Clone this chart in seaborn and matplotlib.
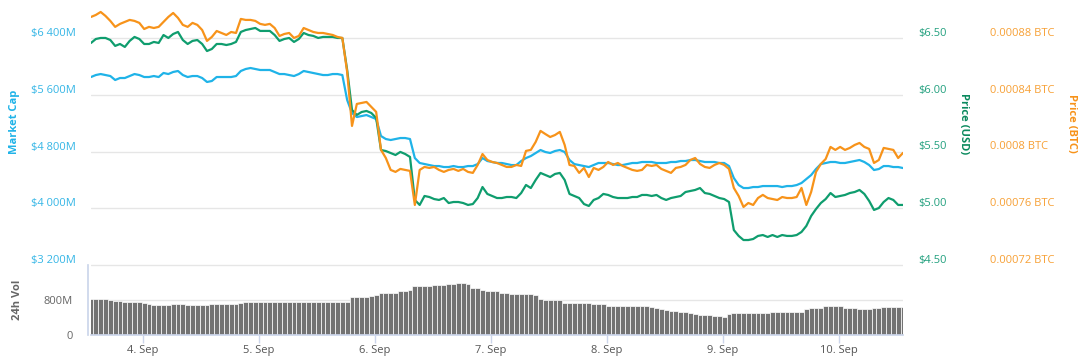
import matplotlib as mpl

mpl.use("Agg")

import matplotlib.pyplot as plt
import matplotlib.dates as mdates
from matplotlib.transforms import ScaledTranslation
import seaborn as sns
import numpy as np
import pandas as pd

sns.set_theme(style="white")
plt.rcParams["font.family"] = ["Open Sans", "DejaVu Sans"]

# hourly samples, 3 Sep 13:15 -> 10 Sep 13:15
times = pd.date_range("2018-09-03 13:15", periods=169, freq="h")

market_cap = [  # $M
    5850, 5878, 5892, 5878, 5864, 5808, 5836, 5836, 5864, 5892, 5878, 5850, 5850, 5864, 5850, 5907,
    5892, 5921, 5935, 5878, 5850, 5864, 5864, 5836, 5780, 5794, 5850, 5850, 5850, 5850, 5864,
    5935, 5963, 5977, 5963, 5949, 5949, 5949, 5921, 5892, 5892, 5878, 5864, 5892, 5935, 5921,
    5907, 5892, 5878, 5878, 5892, 5892, 5878, 5526, 5342, 5286, 5300, 5314, 5286, 5258,
    5018, 4976, 4962, 4976, 4990, 4990, 4976, 4708, 4638, 4623, 4609, 4595, 4595, 4581, 4581,
    4595, 4581, 4581, 4595, 4595, 4623, 4708,
    4666, 4652, 4638, 4638, 4623, 4609, 4609, 4666, 4708, 4736, 4779, 4821, 4793, 4779, 4807,
    4821, 4793, 4680, 4623, 4609, 4595, 4581, 4609, 4638, 4638, 4638, 4623, 4609, 4609, 4623,
    4638, 4638, 4652, 4652, 4652, 4638, 4638, 4638, 4652, 4652, 4666, 4666, 4680, 4680, 4666,
    4652, 4652, 4652, 4638, 4638, 4595, 4426, 4327, 4285, 4285, 4299, 4299, 4313, 4313, 4313,
    4313, 4299, 4313, 4313, 4327, 4356, 4412, 4468, 4553, 4623, 4638, 4652, 4652, 4638, 4638,
    4652, 4666, 4680, 4652, 4609, 4539, 4553, 4595, 4595, 4581, 4581, 4567,
]

price_usd = [
    6.456, 6.491, 6.500, 6.500, 6.482, 6.430, 6.447, 6.421, 6.474, 6.509, 6.491, 6.447, 6.447,
    6.465, 6.456, 6.526, 6.500, 6.535, 6.553, 6.482, 6.447, 6.474, 6.482, 6.447, 6.385, 6.403,
    6.447, 6.447, 6.438, 6.447, 6.465,
    6.553, 6.570, 6.579, 6.588, 6.562, 6.562, 6.562, 6.526, 6.474, 6.491, 6.500, 6.465, 6.491,
    6.544, 6.526, 6.518, 6.500, 6.509, 6.509, 6.509, 6.500, 6.500, 6.218, 5.866, 5.822, 5.848,
    5.857, 5.839, 5.795,
    5.513, 5.504, 5.487, 5.469, 5.496, 5.478, 5.452, 5.073, 5.029, 5.108, 5.099, 5.081, 5.073,
    5.090, 5.046, 5.055, 5.055, 5.046, 5.029, 5.037, 5.090, 5.187,
    5.126, 5.108, 5.090, 5.090, 5.099, 5.099, 5.090, 5.134, 5.205, 5.178, 5.249, 5.311, 5.293,
    5.275, 5.302, 5.311, 5.249, 5.126, 5.108, 5.090, 5.037, 5.020, 5.073, 5.090, 5.126, 5.117,
    5.099, 5.090, 5.090, 5.090,
    5.099, 5.099, 5.117, 5.117, 5.108, 5.117, 5.090, 5.073, 5.090, 5.099, 5.108, 5.143, 5.152,
    5.161, 5.178, 5.134, 5.126, 5.108, 5.090, 5.081, 5.055, 4.808, 4.756, 4.720, 4.720, 4.729,
    4.756, 4.764, 4.747, 4.764,
    4.747, 4.764, 4.756, 4.756, 4.764, 4.791, 4.844, 4.932, 4.993, 5.046, 5.081, 5.134, 5.099,
    5.108, 5.117, 5.134, 5.143, 5.161, 5.126, 5.064, 4.985, 5.002, 5.055, 5.090, 5.073, 5.029,
    5.029,
]

price_btc_e5 = [  # BTC x 1e-5
    89.48, 89.62, 89.83, 89.55, 89.20, 88.78, 88.99, 89.13, 89.27, 89.20, 89.06, 88.63, 88.78,
    88.70, 88.78, 89.13, 89.48, 89.76, 89.41, 88.92, 88.78, 89.06, 88.92, 88.56, 87.79, 88.07,
    88.49, 88.35, 88.21, 88.42, 88.35,
    89.34, 89.27, 89.27, 89.20, 88.99, 88.92, 88.99, 88.70, 88.14, 88.28, 88.35, 88.00, 88.14,
    88.70, 88.56, 88.42, 88.35, 88.35, 88.28, 88.21, 88.07, 88.00, 85.60, 81.80, 83.35, 83.42,
    83.49, 83.14, 82.79,
    80.11, 79.54, 78.70, 78.56, 78.77, 78.70, 78.63, 76.23, 78.70, 78.91, 78.84, 78.91, 78.70,
    78.56, 78.70, 78.77, 78.63, 78.77, 78.56, 78.49, 79.05, 79.82,
    79.40, 79.26, 79.19, 79.05, 78.91, 78.91, 79.05, 78.98, 80.04, 80.11, 80.67, 81.45, 81.23,
    81.02, 81.16, 81.38, 80.46, 79.05, 78.98, 78.49, 78.84, 78.20, 78.84, 78.70, 78.91, 79.26,
    79.05, 79.19, 78.98, 78.84,
    78.70, 78.63, 78.70, 79.05, 78.98, 79.05, 78.77, 78.63, 78.49, 78.84, 78.91, 79.05, 79.40,
    79.54, 79.12, 78.91, 78.84, 79.05, 79.19, 79.05, 78.77, 77.43, 76.86, 76.09, 76.37, 76.23,
    76.72, 76.94, 76.72, 76.65,
    76.58, 76.79, 76.72, 76.72, 76.79, 77.43, 76.23, 77.15, 78.56, 79.12, 79.47, 80.32, 80.11,
    80.32, 80.11, 80.25, 80.46, 80.60, 80.32, 80.18, 79.19, 79.40, 80.25, 80.18, 80.11, 79.54,
    79.90,
]
price_btc = np.array(price_btc_e5) * 1e-5

volume_m = [
    825, 825, 820, 815, 790, 785, 780, 750, 745, 745, 745, 740,
    700, 695, 690, 690, 690, 700, 700, 700, 695, 690, 690, 690, 695, 700, 705,
    715, 720, 720, 720, 725,
    755, 760, 760, 760, 760, 760, 760, 760, 760, 760, 760, 760, 760, 760, 760, 755, 755, 750,
    750, 750, 750, 750,
    860, 875, 880, 880, 900, 905, 950, 960, 960, 970, 1010, 1015, 1020,
    1110, 1125, 1130, 1130, 1135, 1140, 1150, 1170, 1175, 1180, 1180, 1170, 1080, 1070,
    1020, 1010, 1010, 1000, 960, 950, 945, 940, 940, 935, 930, 920,
    820, 800, 800, 795, 790, 740, 735, 730, 730, 725, 725, 720, 715, 700,
    670, 665, 665, 665, 665, 665, 665, 665, 660, 630, 610, 590,
    575, 560, 545, 530, 515, 505, 470, 460, 455, 450, 440, 430, 420,
    470, 495, 505, 505, 505, 505, 505, 505, 505, 530, 535, 535, 535, 535, 535, 535,
    600, 610, 615, 620, 660, 670, 670, 665, 615, 610, 610, 590, 585, 585,
    625, 625, 630, 630, 630, 630, 630,
]

cap_ticks = [3200, 4000, 4800, 5600, 6400]
cap_labels = ["$3 200M", "$4 000M", "$4 800M", "$5 600M", "$6 400M"]
usd_ticks = [4.5, 5.0, 5.5, 6.0, 6.5]
usd_labels = ["$4.50", "$5.00", "$5.50", "$6.00", "$6.50"]
btc_ticks = [0.00072, 0.00076, 0.0008, 0.00084, 0.00088]
btc_labels = ["0.00072 BTC", "0.00076 BTC", "0.0008 BTC", "0.00084 BTC", "0.00088 BTC"]
vol_ticks = [0, 800, 1600]
vol_labels = ["0", "800M", ""]

c_cap, c_usd, c_btc = "#1fb3e8", "#0f9d6e", "#f7931a"
W, H = 1087, 356

fig = plt.figure(figsize=(W / 100, H / 100), dpi=100)
ax = fig.add_axes([91 / W, 91 / H, 812 / W, 257 / H])
ax_usd = ax.twinx()
ax_btc = ax.twinx()
ax_vol = fig.add_axes([91 / W, 21 / H, 812 / W, 70 / H], sharex=ax)

sns.lineplot(x=times, y=market_cap, ax=ax, color=c_cap, linewidth=1.6)
sns.lineplot(x=times, y=price_usd, ax=ax_usd, color=c_usd, linewidth=1.6)
sns.lineplot(x=times, y=price_btc, ax=ax_btc, color=c_btc, linewidth=1.6)
ax_vol.bar(times, volume_m, width=1 / 24, color="#737373", edgecolor="white", linewidth=0.5)

ax.set_xlim(times[0], times[-1])
ax.set_ylim(3200, 6823)
ax_usd.set_ylim(4.5, 6.764)
ax_btc.set_ylim(0.00072, 0.0009011)
ax_vol.set_ylim(0, 1600)

up = ScaledTranslation(0, 0.06, fig.dpi_scale_trans)
for a, ticks, labels, color, pad in [
    (ax, cap_ticks, cap_labels, "#35b6e6", 10.8),
    (ax_usd, usd_ticks, usd_labels, "#22a07e", 10.8),
    (ax_btc, btc_ticks, btc_labels, "#f7a035", 62.6),
    (ax_vol, vol_ticks, vol_labels, "#666666", 10.8),
]:
    a.set_yticks(ticks)
    a.set_yticklabels(labels)
    a.tick_params(axis="y", length=0, pad=pad, labelsize=8, labelcolor=color)
    for lab in a.get_yticklabels():
        lab.set_transform(lab.get_transform() + up)
    a.set_ylabel("")
    for s in a.spines.values():
        s.set_visible(False)

for a in (ax, ax_vol):
    a.grid(axis="y", color="#e6e6e6", linewidth=1)
    a.set_axisbelow(True)

ax.tick_params(axis="x", bottom=False, labelbottom=False)
ax_vol.spines["bottom"].set_visible(True)
ax_vol.spines["bottom"].set_color("#ccd6eb")
ax_vol.spines["left"].set_visible(True)
ax_vol.spines["left"].set_color("#ccd6eb")
ax_vol.spines["left"].set_position(("outward", 2))
ax_vol.xaxis.set_major_locator(mdates.DayLocator())
ax_vol.xaxis.set_major_formatter(mdates.DateFormatter("%-d. %b"))
ax_vol.tick_params(axis="x", bottom=True, length=6, width=1, color="#ccd6eb",
                   pad=1.5, labelsize=8, labelcolor="#555555")

fig.text(15 / W, 1 - 122 / H, "Market Cap", rotation=90, ha="center", va="center",
         color=c_cap, fontsize=8, fontweight="bold")
fig.text(963 / W, 1 - 124 / H, "Price (USD)", rotation=270, ha="center", va="center",
         color="#0b8a5e", fontsize=8, fontweight="bold")
fig.text(1072 / W, 1 - 123 / H, "Price (BTC)", rotation=270, ha="center", va="center",
         color=c_btc, fontsize=8, fontweight="bold")
fig.text(18 / W, 1 - 300 / H, "24h Vol", rotation=90, ha="center", va="center",
         color="#666666", fontsize=8, fontweight="bold")

fig.savefig("out.png", dpi=100)
